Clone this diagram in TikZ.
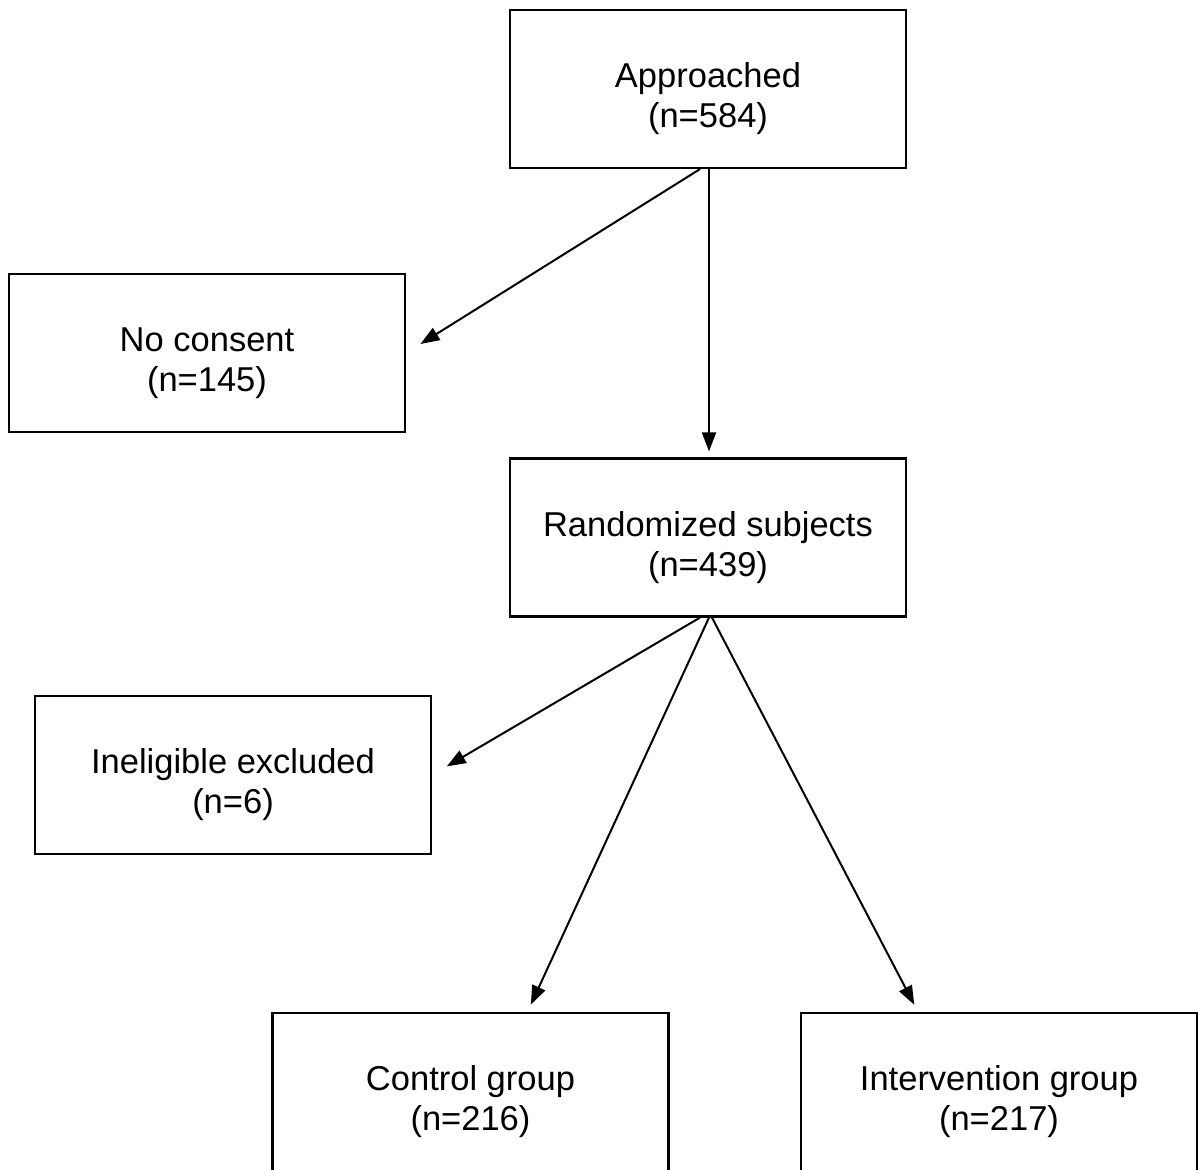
\documentclass[tikz,border=0pt]{standalone}
\usepackage{fontspec}
\setmainfont{Liberation Sans}
\usetikzlibrary{arrows.meta}
\newcommand{\topstrut}[1]{\rule{0pt}{#1}}
\begin{document}
\begin{tikzpicture}[x=1pt,y=-1pt,
  box/.style={draw=black,line width=2.2pt,minimum width=396pt,minimum height=158pt,inner sep=0pt,
    align=center,font=\fontsize{34.5pt}{40pt}\selectfont},
  arr/.style={line width=2pt,-{Triangle[length=19pt,width=14pt]}}]
\useasboundingbox (0,0) rectangle (1200,1170);
\clip (0,0) rectangle (1200,1170);
\node[box] (app) at (708,89) {\topstrut{45pt}Approached\\(n=584)};
\node[box] (nocons) at (207,353) {\topstrut{45pt}No consent\\(n=145)};
\node[box] (rand) at (708,537.5) {\topstrut{45pt}Randomized subjects\\(n=439)};
\node[box] (inel) at (233,775) {\topstrut{45pt}Ineligible excluded\\(n=6)};
\node[box,minimum height=166pt] (ctrl) at (470.5,1096) {\topstrut{37pt}Control group\\(n=216)};
\node[box,minimum height=166pt] (intv) at (999,1096) {\topstrut{37pt}Intervention group\\(n=217)};
\coordinate (a1) at ([xshift=-8pt]app.south);
\coordinate (a2) at ([xshift=1pt]app.south);
\coordinate (r1) at ([xshift=-8pt]rand.south);
\coordinate (r2) at ([xshift=1pt]rand.south);
\coordinate (r3) at ([xshift=4pt]rand.south);
\coordinate (ct) at ([xshift=57pt]ctrl.north);
\coordinate (it) at ([xshift=-81pt]intv.north);
\draw[arr,shorten >=17pt] (a1) -- (nocons.east);
\draw[arr,shorten >=6pt] (a2) -- (a2 |- rand.north);
\draw[arr,shorten >=17pt] (r1) -- (inel.east);
\draw[arr,shorten >=8pt] (r2) -- (ct);
\draw[arr,shorten >=8pt] (r3) -- (it);
\end{tikzpicture}
\end{document}
